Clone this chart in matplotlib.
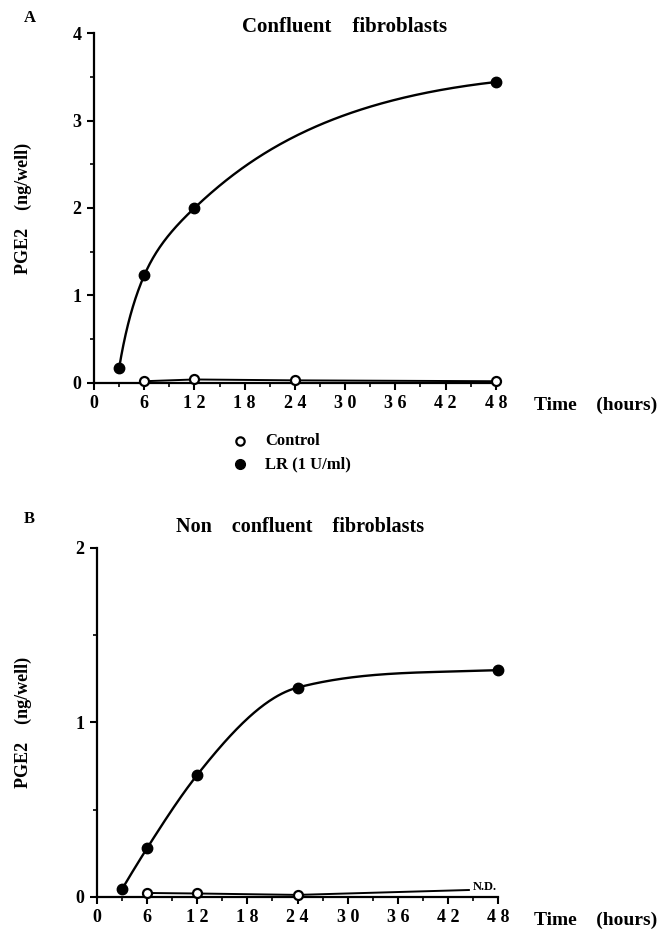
import numpy as np
import matplotlib
matplotlib.use("Agg")
import matplotlib.pyplot as plt
from matplotlib.ticker import MultipleLocator

plt.rcParams['font.family'] = ['Liberation Serif', 'DejaVu Serif']
plt.rcParams['font.weight'] = 'bold'

# panel A: confluent fibroblasts
a_lr_t = [3, 6, 12, 48]
a_lr_v = [0.17, 1.23, 2.0, 3.44]
a_ct_t = [6, 12, 24, 48]
a_ct_v = [0.02, 0.04, 0.03, 0.02]

# panel B: non confluent fibroblasts
b_lr_t = [3, 6, 12, 24, 48]
b_lr_v = [0.045, 0.28, 0.70, 1.20, 1.30]
b_ct_t = [6, 12, 24]
b_ct_v = [0.023, 0.02, 0.012]
b_nd_t = 44.5
b_nd_v = 0.04

xticks = [0, 6, 12, 18, 24, 30, 36, 42, 48]
xlabels = [" ".join(str(t)) for t in xticks]


def smooth(x, y, logx=True, n=300):
    # cubic hermite through the points (3-point tangents, clamped so it
    # doesn't overshoot) - gives the hand smoothed look of the original
    x = np.asarray(x, float)
    u = np.log(x) if logx else x
    y = np.asarray(y, float)
    h = np.diff(u)
    d = np.diff(y) / h
    m = np.zeros_like(y)
    for i in range(1, len(u) - 1):
        m[i] = (h[i] * d[i - 1] + h[i - 1] * d[i]) / (h[i - 1] + h[i])
        m[i] = min(m[i], 3 * d[i - 1], 3 * d[i])
    m[0] = max(((2 * h[0] + h[1]) * d[0] - h[0] * d[1]) / (h[0] + h[1]), 0)
    m[-1] = 0.5 * d[-1]
    us = np.linspace(u[0], u[-1], n)
    idx = np.clip(np.searchsorted(u, us) - 1, 0, len(u) - 2)
    t = (us - u[idx]) / h[idx]
    h00 = 2 * t**3 - 3 * t**2 + 1
    h10 = t**3 - 2 * t**2 + t
    h01 = -2 * t**3 + 3 * t**2
    h11 = t**3 - t**2
    ys = h00 * y[idx] + h10 * h[idx] * m[idx] + h01 * y[idx + 1] + h11 * h[idx] * m[idx + 1]
    return (np.exp(us) if logx else us), ys


def style(ax, ymax):
    ax.set_xlim(0, 48)
    ax.set_ylim(0, ymax)
    for s in ['top', 'right']:
        ax.spines[s].set_visible(False)
    for s in ['left', 'bottom']:
        ax.spines[s].set_linewidth(1.6)
    ax.set_xticks(xticks)
    ax.set_xticklabels(xlabels)
    ax.xaxis.set_minor_locator(MultipleLocator(3))
    ax.set_yticks(range(ymax + 1))
    ax.yaxis.set_minor_locator(MultipleLocator(0.5))
    ax.tick_params(which='major', direction='out', length=5, width=1.5,
                   labelsize=13, pad=4)
    ax.tick_params(which='minor', direction='out', length=3, width=1.2)


fig = plt.figure(figsize=(6.62, 9.30), dpi=100)

# ---- panel A
axA = fig.add_axes([0.142, 0.5882, 0.607, 0.3763])
style(axA, 4)
xs, ys = smooth(a_lr_t, a_lr_v)
axA.plot(xs, ys, color='black', lw=1.7, clip_on=False)
axA.plot(a_lr_t, a_lr_v, 'o', color='black', ms=7.5, clip_on=False, zorder=5)
axA.plot(a_ct_t, a_ct_v, '-', color='black', lw=1.4, clip_on=False)
axA.plot(a_ct_t, a_ct_v, 'o', mfc='white', mec='black', mew=1.6, ms=6.5,
         clip_on=False, zorder=5)
fig.text(0.520, 0.971, "Confluent    fibroblasts", fontsize=15,
         fontweight='bold', ha='center', va='center')
fig.text(0.036, 0.981, "A", fontsize=12, fontweight='bold', va='center')
fig.text(0.035, 0.5882 + 0.3763 / 2, "PGE2    (ng/well)", rotation=90,
         fontsize=13, fontweight='bold', ha='center', va='center')
fig.text(0.807, 0.5645, "Time    (hours)", fontsize=14, fontweight='bold',
         va='center', ha='left')

# legend below panel A
fig.lines.append(plt.Line2D([0.363], [0.526], marker='o', mfc='white',
                            mec='black', mew=1.6, ms=6, transform=fig.transFigure))
fig.lines.append(plt.Line2D([0.363], [0.501], marker='o', color='black',
                            ms=7, transform=fig.transFigure))
fig.text(0.400, 0.526, "Control", fontsize=12, fontweight='bold', va='center')
fig.text(0.400, 0.501, "LR (1 U/ml)", fontsize=12, fontweight='bold', va='center')

# ---- panel B
axB = fig.add_axes([0.1465, 0.0355, 0.606, 0.3753])
style(axB, 2)
xs, ys = smooth(b_lr_t, b_lr_v, logx=False)
axB.plot(xs, ys, color='black', lw=1.7, clip_on=False)
axB.plot(b_lr_t, b_lr_v, 'o', color='black', ms=7.5, clip_on=False, zorder=5)
axB.plot(b_ct_t + [b_nd_t], b_ct_v + [b_nd_v], '-', color='black', lw=1.4)
axB.plot(b_ct_t, b_ct_v, 'o', mfc='white', mec='black', mew=1.6, ms=6.5,
         clip_on=False, zorder=5)
axB.text(b_nd_t + 0.5, b_nd_v + 0.015, "N.D.", fontsize=9, fontweight='bold',
         va='center', ha='left')
fig.text(0.453, 0.4333, "Non    confluent    fibroblasts", fontsize=14.5,
         fontweight='bold', ha='center', va='center')
fig.text(0.036, 0.442, "B", fontsize=12, fontweight='bold', va='center')
fig.text(0.035, 0.0355 + 0.3753 / 2, "PGE2    (ng/well)", rotation=90,
         fontsize=13, fontweight='bold', ha='center', va='center')
fig.text(0.807, 0.0108, "Time    (hours)", fontsize=14, fontweight='bold',
         va='center', ha='left')

fig.savefig("out.png", dpi=100)
